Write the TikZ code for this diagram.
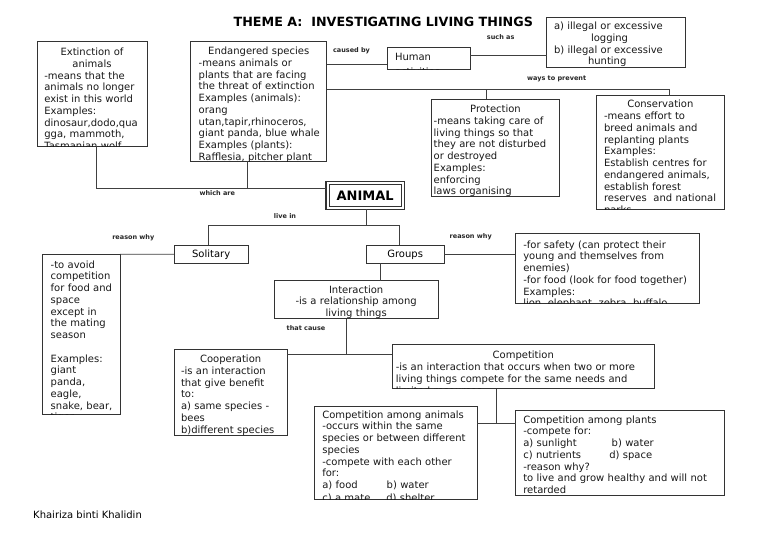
\documentclass[tikz,border=0pt]{standalone}
\usepackage{fontspec}
\setmainfont{DejaVu Sans}
\setlength\parindent{0pt}
\newcommand\boxfont{\fontsize{10}{11.75}\selectfont}
\newcommand\ttl[1]{\leavevmode\hbox to\cw{\hss#1\hss}}
\newcommand\cmbox[8]{%
  \node[cbox, minimum width=#4pt, minimum height=#5pt] (#1) at (#2,#3) {};
  \begin{scope}
    \clip (#1.north west) rectangle (#1.south east);
    \pgfmathsetlengthmacro\cw{#4pt-2*#6pt}
    \pgfmathsetlengthmacro\tw{#4pt-2*#6pt+80pt}
    \node[ctext, text width=\tw] (#1-t) at ([shift={(#6,#7)}]#1.north west) {\strut#8};
  \end{scope}}
\tikzset{
  cbox/.style={draw=black!80, line width=0.75pt, rectangle, anchor=north west, inner sep=0pt, outer sep=0pt},
  ctext/.style={anchor=north west, inner sep=0pt, outer sep=0pt, align=left, font=\boxfont, text=black!90},
  lbl/.style={font=\bfseries\fontsize{6.5}{7}\selectfont, inner sep=0pt, text=black!85},
  conn/.style={draw=black!75, line width=0.75pt},
}
\begin{document}
\begin{tikzpicture}[x=1pt, y=-1pt]
\useasboundingbox[fill=white] (0,0) rectangle (768,543);

% title
\node[font=\bfseries\fontsize{12.7}{14}\selectfont, inner sep=0pt] (title) at (383.3,21.7) {THEME A:\ \ INVESTIGATING LIVING THINGS};

% boxes
\cmbox{ext}{37}{41.7}{110}{104.3}{7.3}{5.6}{\ttl{Extinction of}\\\ttl{animals}\\-means that the\\animals no longer\\exist in this world\\Examples:\\dinosaur,dodo,qua\\gga, mammoth,\\Tasmanian wolf}
\cmbox{end}{190.7}{41.7}{136}{119.6}{8}{4.6}{\ttl{Endangered species}\\-means animals or\\plants that are facing\\the threat of extinction\\Examples (animals):\\orang\\utan,tapir,rhinoceros,\\giant panda, blue whale\\Examples (plants):\\Rafflesia, pitcher plant}
\cmbox{human}{387.3}{47.7}{82.7}{21.6}{7.7}{4.6}{Human\\[3pt]activities}
\cmbox{illegal}{546.7}{17.3}{139}{50.4}{7.3}{4.1}{a) illegal or excessive\\\hspace*{37pt}logging\\b) illegal or excessive\\\hspace*{34pt}hunting}
\cmbox{prot}{431.7}{99}{127.6}{97}{2}{5.4}{\ttl{Protection}\\-means taking care of\\living things so that\\they are not disturbed\\or destroyed\\Examples:\\enforcing\\laws organising}
\cmbox{cons}{596.7}{95.7}{127.3}{113.6}{7.3}{4}{\ttl{Conservation}\\-means effort to\\breed animals and\\replanting plants\\Examples:\\Establish centres for\\endangered animals,\\establish forest\\reserves\ \ and national\\parks}

\node[cbox, line width=1.3pt, minimum width=78.3pt, minimum height=27.6pt, font=\bfseries\fontsize{13}{15}\selectfont] (animal) at (326,181.7) {ANIMAL};
\draw[draw=black!80, line width=0.7pt] ([shift={(3,3)}]animal.north west) rectangle ([shift={(-3,-3)}]animal.south east);

\node[cbox, minimum width=74.3pt, minimum height=18.3pt, font=\boxfont, text height=8.9pt, text depth=2pt] (sol) at (174,245) {Solitary};
\node[cbox, minimum width=77.7pt, minimum height=18.3pt, font=\boxfont, text height=8.9pt, text depth=2pt] (grp) at (366.3,245) {Groups};

\cmbox{solr}{42.7}{254.3}{77.3}{160}{8}{5.5}{-to avoid\\competition\\for food and\\space\\except in\\the mating\\season\\\mbox{}\\Examples:\\giant\\panda,\\eagle,\\snake, bear,\\tiger}
\cmbox{grpr}{515}{233}{184}{70}{8.3}{7}{-for safety (can protect their\\young and themselves from\\enemies)\\-for food (look for food together)\\Examples:\\lion, elephant, zebra, buffalo}
\cmbox{inter}{274.3}{280.7}{163.7}{38}{0}{4.1}{\ttl{Interaction}\\\ttl{-is a relationship among}\\\ttl{living things}}
\cmbox{coop}{174}{349.3}{113.3}{86}{7}{5.1}{\ttl{Cooperation}\\-is an interaction\\that give benefit\\to:\\a) same species -\\bees\\b)different species}
\cmbox{comp}{392.3}{344.3}{262}{44.4}{3.5}{6.4}{\ttl{Competition}\\-is an interaction that occurs when two or more\\living things compete for the same needs and\\limited resources}
\cmbox{canim}{314.7}{406}{162.6}{93.3}{7.6}{3.8}{Competition among animals\\-occurs within the same\\species or between different\\species\\-compete with each other\\for:\\\makebox[64.4pt][l]{a) food}b) water\\[1.5pt]\makebox[64pt][l]{c) a mate}d) shelter}
\cmbox{cplant}{515.7}{410}{208.3}{85.7}{7.6}{4.8}{Competition among plants\\-compete for:\\\makebox[88.4pt][l]{a) sunlight}b) water\\\makebox[86pt][l]{c) nutrients}d) space\\-reason why?\\to live and grow healthy and will not\\retarded}

% junction coordinates
\coordinate (jwhich) at (247,188.3);
\coordinate (jlive) at (366,225.7);
\coordinate (jsolt) at (208.3,225.7);
\coordinate (jgrpt) at (399,225.7);
\coordinate (jprev) at (486.7,89.3);
\coordinate (jcause) at (346,354.3);
\coordinate (jcomp) at (496.5,423.3);

% connectors
\draw[conn] (ext.south -| 96.7,0) |- ([yshift=7.2pt]animal.west);
\draw[conn] (end.south -| jwhich) -- (jwhich);
\draw[conn] (end.east |- 0,64.3) -- (human.west |- 0,64.3);
\draw[conn] (human.east |- 0,55) -- (illegal.west |- 0,55);
\draw[conn] (end.east |- jprev) -| (cons.north -| 669.3,0);
\draw[conn] (prot.north -| jprev) -- (jprev);
\draw[conn] (animal.south -| jlive) -- (jlive);
\draw[conn] (sol.north -| jsolt) -- (jsolt) -- (jgrpt) -- (grp.north -| jgrpt);
\draw[conn] (sol.west) -- (solr.north east);
\draw[conn] (grp.east) -- (grpr.west |- grp.east);
\draw[conn] (grp.south -| 380.7,0) -- (inter.north -| 380.7,0);
\draw[conn] (inter.south -| jcause) -- (jcause);
\draw[conn] (coop.east |- jcause) -- (comp.west |- jcause);
\draw[conn] (comp.south -| jcomp) -- (jcomp);
\draw[conn] (canim.east |- jcomp) -- (cplant.west |- jcomp);

% labels
\node[lbl] (l-caused) at (351.5,51) {caused by};
\node[lbl] (l-such) at (500.7,36.7) {such as};
\node[lbl] (l-ways) at (556.7,79.3) {ways to prevent};
\node[lbl] (l-which) at (217.3,192.7) {which are};
\node[lbl] (l-live) at (285,216) {live in};
\node[lbl] (l-rw1) at (133.3,237.3) {reason why};
\node[lbl] (l-rw2) at (470.7,236.3) {reason why};
\node[lbl] (l-cause) at (306,327.7) {that cause};

% author
\node[font=\boxfont, anchor=west, inner sep=0pt] (author) at (33,514.3) {Khairiza binti Khalidin};
\end{tikzpicture}
\end{document}
